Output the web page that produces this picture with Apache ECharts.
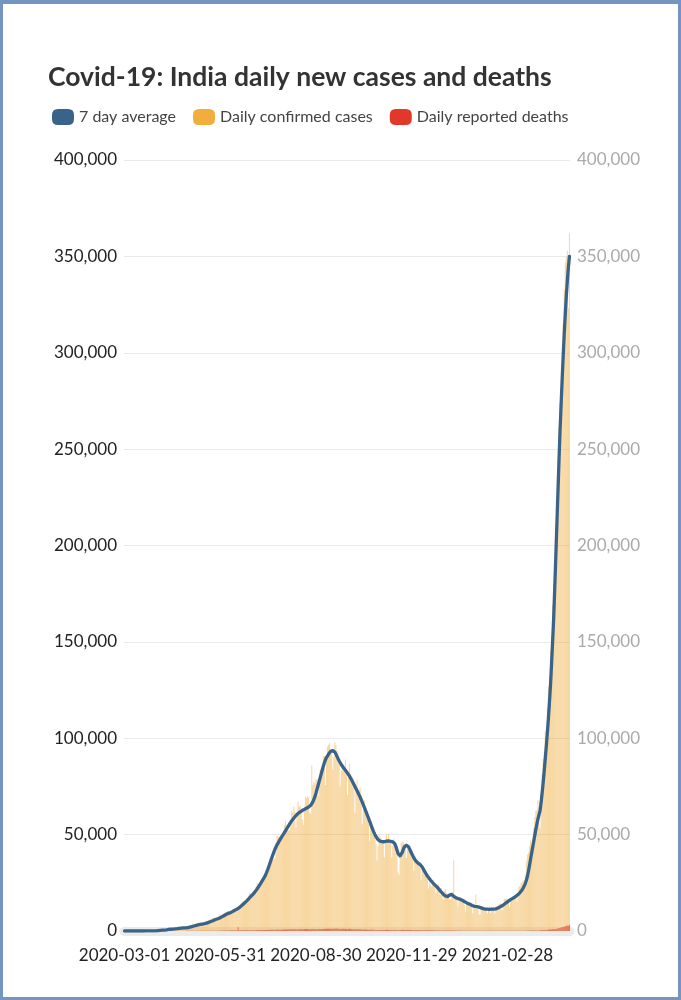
<!DOCTYPE html>
<html><head><meta charset="utf-8">
<script src="https://cdn.jsdelivr.net/npm/echarts/dist/echarts.min.js"></script>
<style>
html,body{margin:0;padding:0;background:#fff;}
#chart{position:absolute;left:0;top:0;width:681px;height:1000px;}
#frame{position:absolute;left:0;top:0;width:681px;height:1000px;box-sizing:border-box;border:3px solid #7395bf;border-top-width:4px;pointer-events:none;}
</style></head><body>
<div id="chart"></div><div id="frame"></div>
<script>
// First day of the daily series (one value per day)
const startDate = '2020-03-01';
// Y ticks in thousands (labels shown as full numbers)
const yTicksK = [0, 50, 100, 150, 200, 250, 300, 350, 400];

// Daily confirmed cases, thousands (2020-03-01 .. 2021-04-28)
const casesK = [
 0,0,0,0,0,0,0,0,0,0, 0,0,0,0,0,0,0,0,0,0.1, 0.1,0.1,0.1,0,0.1,0.1,0.2,0.1,0.1,0.2, 0.1,
 0.6,0.4,0.5,0.5,0.5,0.7,0.4,0.6,0.8,0.8, 1.0,0.9,0.7,1.2,1.0,1.0,1.0,1.4,1.3,1.6, 1.3,1.5,1.7,1.4,1.8,1.6,1.6,1.6,1.6,1.8,
 2.4,2.0,2.6,2.5,3.9,2.7,3.6,3.3,3.3,4.3, 4.2,3.6,3.5,3.7,3.9,3.9,4.9,5.2,4.6,5.6, 5.6,6.1,6.6,6.8,7.0,6.5,6.4,6.6,7.5,8.0, 8.4,
 8.4,8.2,8.9,9.3,9.9,9.9,10.4,9.9,9.8,9.9, 10.0,10.9,11.5,11.9,11.5,10.7,10.9,12.9,13.6,14.5, 15.4,14.8,14.9,15.9,16.9,17.3,18.6,19.9,19.5,18.5,
 18.7,19.1,20.9,22.8,24.9,24.2,22.3,22.8,24.9,26.5, 27.1,28.6,28.7,28.5,29.4,32.7,35.0,34.9,38.9,40.4, 37.1,37.7,45.7,49.3,49.0,48.7,49.9,47.7,48.5,52.1, 55.1,
 57.1,54.7,52.9,52.1,52.5,56.3,62.5,61.5,64.4,62.1, 53.6,60.9,67.0,64.6,65.0,63.5,57.9,55.1,64.5,69.7, 68.9,70.0,69.2,61.4,60.9,86.0,75.8,77.3,76.5,78.8, 78.5,
 69.9,78.4,83.9,83.3,86.4,90.6,90.8,75.8,89.7,95.7, 96.6,97.6,94.4,92.1,83.8,90.1,97.9,96.4,93.3,92.6, 86.9,75.1,83.3,86.5,86.1,85.4,89.0,82.2,70.6,80.5,
 86.8,81.5,79.5,75.8,74.4,61.3,72.0,78.5,70.5,73.3, 74.4,66.7,55.3,63.5,67.7,63.4,62.2,61.9,55.7,46.8, 54.0,55.8,54.4,53.4,50.1,45.1,36.5,43.9,49.9,48.6, 48.3,
 46.9,45.3,38.3,46.3,50.2,47.6,50.4,45.7,45.9,38.1, 44.3,47.9,44.9,44.7,41.1,30.5,29.2,38.6,45.6,46.0, 46.2,45.2,44.1,37.9,44.4,44.5,43.1,41.3,41.8,38.8,
 31.1,36.6,35.6,36.6,36.7,36.0,32.9,26.6,32.1,31.5, 29.4,30.0,30.3,27.1,22.1,26.4,24.0,22.9,25.2,26.6, 24.3,19.6,23.9,24.7,23.1,18.7,22.3,20.0,16.4,20.6, 21.8,
 20.0,19.1,18.2,16.5,16.4,18.1,20.3,37.0,18.1,18.6, 16.3,12.6,15.9,16.9,15.6,15.2,15.1,13.8,10.1,13.8, 15.2,14.5,14.3,14.8,13.2,9.1,12.7,11.7,18.9,13.1, 13.1,
 8.6,8.6,11.0,12.9,12.4,11.7,12.1,11.8,9.1,11.1, 12.9,9.3,12.2,11.4,11.6,9.1,11.6,12.9,13.2,13.9, 14.3,14.2,10.6,13.7,16.7,16.6,16.5,16.8,
 15.5,12.3,14.9,17.4,16.8,18.3,18.7,18.6,15.4,17.9, 22.9,23.3,24.9,25.3,26.3,24.5,28.9,35.9,39.7,40.9, 43.8,46.9,40.7,47.3,53.5,59.1,62.3,62.7,68.0,56.2, 53.5,
 72.3,81.5,89.1,93.2,103.6,96.9,115.7,126.8,131.9,145.4, 152.9,168.9,161.7,184.4,200.7,217.4,234.7,261.5,273.8,259.2, 295.0,314.8,332.7,346.8,349.7,352.9,323.1,362.0
];

// 7 day average, thousands
const avgK = [
 0,0,0,0,0,0,0,0,0,0, 0,0,0,0,0,0,0,0,0,0, 0.1,0.1,0.1,0.1,0.1,0.1,0.1,0.1,0.1,0.1, 0.1,
 0.2,0.2,0.3,0.3,0.4,0.4,0.5,0.5,0.6,0.6, 0.7,0.8,0.8,0.9,0.9,1.0,1.0,1.1,1.1,1.2, 1.3,1.4,1.4,1.5,1.5,1.6,1.6,1.6,1.7,1.7,
 1.9,2.0,2.1,2.3,2.5,2.6,2.8,2.9,3.0,3.2, 3.3,3.4,3.5,3.6,3.7,3.8,3.9,4.1,4.3,4.5, 4.7,4.9,5.1,5.3,5.5,5.8,6.0,6.2,6.4,6.6, 6.9,
 7.2,7.5,7.8,8.1,8.4,8.7,9.0,9.2,9.4,9.6, 9.9,10.2,10.5,10.8,11.1,11.4,11.7,12.1,12.5,13.0, 13.5,14.0,14.5,15.0,15.5,16.1,16.7,17.3,17.9,18.5,
 19.0,19.6,20.3,21.0,21.8,22.6,23.4,24.3,25.2,26.1, 27.0,27.9,29.0,30.3,31.7,33.2,34.8,36.4,38.0,39.5, 41.0,42.4,43.6,44.7,45.7,46.6,47.5,48.4,49.3,50.2, 51.1,
 52.0,52.9,53.8,54.7,55.6,56.4,57.2,57.9,58.6,59.3, 59.9,60.5,61.0,61.4,61.8,62.2,62.5,62.8,63.1,63.4, 63.7,64.0,64.3,64.7,65.2,66.0,67.0,68.2,69.7,71.5, 73.5,
 75.5,77.5,79.5,81.5,83.5,85.5,87.3,88.8,90.0,91.0, 91.8,92.6,93.2,93.5,93.6,93.4,92.8,91.8,90.6,89.4, 88.3,87.3,86.4,85.6,84.8,84.1,83.4,82.7,81.9,81.1,
 80.2,79.3,78.3,77.2,76.1,75.0,73.9,72.8,71.7,70.6, 69.5,68.2,66.9,65.5,64.1,62.7,61.3,59.9,58.5,57.0, 55.5,54.0,52.6,51.3,50.1,49.0,48.1,47.4,46.9,46.6, 46.5,
 46.3,46.2,46.3,46.5,46.6,46.7,46.7,46.6,46.5,46.4, 46.3,46.0,45.2,43.8,42.0,40.3,39.3,39.0,39.6,40.8, 42.3,43.6,44.3,44.5,44.4,43.7,42.6,41.4,40.2,39.1,
 38.0,37.1,36.3,35.7,35.2,34.8,34.5,34.0,33.2,32.2, 31.2,30.2,29.3,28.5,27.7,27.0,26.3,25.6,25.0,24.4, 23.9,23.4,22.9,22.3,21.6,20.9,20.3,19.7,19.1,18.6, 18.2,
 18.0,17.9,17.8,18.6,19.3,19.0,18.4,18.0,17.6,17.3, 17.0,16.8,16.6,16.5,16.3,16.0,15.7,15.3,15.0,14.7, 14.4,14.2,14.0,13.7,13.4,13.1,12.9,12.8,12.8,12.7, 12.6,
 12.4,12.2,12.0,11.8,11.6,11.5,11.4,11.3,11.3,11.2, 11.2,11.2,11.3,11.3,11.3,11.4,11.5,11.7,11.9,12.2, 12.5,12.8,13.1,13.5,13.9,14.3,14.7,15.1,
 15.5,15.9,16.3,16.6,16.9,17.2,17.6,18.0,18.4,18.8, 19.3,19.9,20.6,21.4,22.3,23.3,24.6,26.3,28.3,31.0, 34.0,37.2,40.3,43.4,46.5,49.6,52.6,55.4,58.0,60.3, 62.4,
 66.5,71.5,77.0,83.0,89.5,96.0,103.0,110.5,119.0,128.0, 139.0,150.5,162.5,178.0,194.0,210.5,227.0,243.5,259.0,272.5, 285.5,298.0,309.5,320.0,329.5,337.5,344.5,350.0
];

// Daily reported deaths, thousands
const deathsK = [
 0,0,0,0,0,0,0,0,0,0, 0,0,0,0,0,0,0,0,0,0, 0,0,0,0,0,0,0.01,0,0.01,0.01, 0.01,
 0.01,0.01,0.01,0.02,0.02,0.03,0.02,0.03,0.04,0.04, 0.04,0.03,0.03,0.04,0.04,0.03,0.03,0.04,0.04,0.04, 0.04,0.05,0.04,0.04,0.05,0.05,0.06,0.05,0.07,0.07,
 0.08,0.07,0.08,0.08,0.19,0.1,0.1,0.1,0.1,0.11, 0.11,0.12,0.13,0.13,0.1,0.12,0.12,0.16,0.13,0.14, 0.13,0.14,0.14,0.15,0.15,0.15,0.15,0.18,0.27,0.17, 0.19,
 0.23,0.2,0.22,0.26,0.28,0.3,0.28,0.25,0.27,0.35, 0.36,0.4,0.39,0.32,0.33,0.37,2.0,0.34,0.33,0.38, 0.43,0.45,0.43,0.44,0.42,0.41,0.38,0.38,0.38,0.42,
 0.51,0.43,0.38,0.44,0.61,0.46,0.47,0.48,0.48,0.48, 0.53,0.55,0.5,0.55,0.58,0.61,0.67,0.66,0.68,0.68, 0.67,0.66,0.68,0.74,0.76,0.71,0.71,0.65,0.78,0.77, 0.76,
 0.76,0.85,0.8,0.81,0.86,0.9,0.9,0.93,0.87,1.01, 0.87,0.83,0.95,0.99,1.06,0.94,0.88,0.88,1.07,1.09, 0.98,0.98,0.91,0.85,0.85,1.06,1.05,1.02,1.02,0.97, 0.82,
 1.04,1.05,1.04,1.1,1.07,1.07,1.0,1.13,1.15,1.17, 1.2,1.2,1.11,1.14,1.05,1.29,1.13,1.28,1.25,1.13, 1.13,1.05,1.09,1.13,1.13,1.09,1.12,1.04,0.78,1.18,
 1.18,1.1,1.07,0.94,0.9,0.88,0.97,0.96,0.99,0.93, 0.93,0.82,0.71,0.73,0.68,0.78,0.77,0.58,0.57,0.59, 0.72,0.71,0.65,0.64,0.58,0.5,0.48,0.52,0.52,0.52, 0.55,
 0.47,0.51,0.49,0.51,0.7,0.67,0.58,0.56,0.49,0.45, 0.45,0.67,0.55,0.55,0.51,0.44,0.45,0.47,0.58,0.59, 0.59,0.51,0.51,0.45,0.58,0.52,0.52,0.49,0.49,0.44,
 0.44,0.48,0.5,0.54,0.51,0.48,0.39,0.39,0.4,0.4, 0.42,0.44,0.39,0.34,0.36,0.36,0.35,0.34,0.35,0.33, 0.33,0.3,0.33,0.3,0.34,0.25,0.3,0.25,0.25,0.29, 0.26,
 0.26,0.23,0.21,0.21,0.2,0.26,0.22,0.23,0.22,0.21, 0.17,0.2,0.2,0.2,0.18,0.18,0.18,0.15,0.14,0.16, 0.15,0.15,0.16,0.15,0.13,0.14,0.13,0.12,0.15,0.13, 0.13,
 0.12,0.09,0.11,0.11,0.11,0.12,0.11,0.08,0.09,0.08, 0.09,0.08,0.09,0.1,0.09,0.08,0.09,0.1,0.1,0.1, 0.1,0.09,0.08,0.1,0.14,0.11,0.11,0.12,
 0.11,0.11,0.1,0.1,0.11,0.11,0.1,0.1,0.08,0.13, 0.13,0.12,0.12,0.16,0.12,0.16,0.19,0.17,0.2,0.19, 0.2,0.21,0.21,0.28,0.27,0.26,0.29,0.28,0.29,0.27, 0.35,
 0.46,0.47,0.51,0.51,0.48,0.45,0.63,0.68,0.78,0.79, 0.84,0.88,0.88,1.03,1.03,1.19,1.34,1.5,1.62,1.76, 2.02,2.1,2.26,2.62,2.77,2.81,2.77,3.29
];

const seriesNames = ['7 day average', 'Daily confirmed cases', 'Daily reported deaths'];
const seriesColors = ['#3a6389', '#f2ae3c', '#e2382a'];

// category labels: one date string per day
const dates = [];
const d0 = new Date(startDate + 'T00:00:00Z');
for (let i = 0; i < casesK.length; i++) {
  dates.push(new Date(d0.getTime() + i * 86400000).toISOString().slice(0, 10));
}

const FONT = 'Lato';
const fmt = v => (v * 1000).toLocaleString('en-US');
const chart = echarts.init(document.getElementById('chart'), null, {renderer: 'canvas'});
chart.setOption({
  animation: false,
  backgroundColor: '#ffffff',
  textStyle: {fontFamily: FONT},
  title: {
    text: 'Covid-19: India daily new cases and deaths',
    left: 43, top: 59,
    textStyle: {fontFamily: FONT, fontSize: 26.5, fontWeight: 'bold', color: '#333333'}
  },
  legend: {
    data: seriesNames.map((n, i) => ({name: n, itemStyle: {color: seriesColors[i], opacity: 1}})),
    left: 47, top: 104,
    itemWidth: 22, itemHeight: 16, itemGap: 17,
    icon: 'path://M6,0H16Q22,0 22,6V10Q22,16 16,16H6Q0,16 0,10V6Q0,0 6,0Z',
    textStyle: {fontFamily: FONT, fontSize: 16, color: '#444444'}
  },
  grid: {left: 124, right: 111, top: 160, bottom: 69, containLabel: false},
  xAxis: {
    type: 'category', data: dates, offset: 5,
    axisLine: {show: true, lineStyle: {color: '#ebebeb', width: 9}},
    axisTick: {show: false},
    axisLabel: {interval: 90, color: '#222222', fontSize: 17, margin: 11, fontFamily: FONT, hideOverlap: false}
  },
  yAxis: [
    {type: 'value', min: 0, max: 400, interval: 50,
     axisLine: {show: false}, axisTick: {show: false},
     splitLine: {lineStyle: {color: '#e9e9e9', width: 1}},
     axisLabel: {formatter: fmt, color: '#222222', fontSize: 17, margin: 7, fontFamily: FONT}},
    {type: 'value', min: 0, max: 400, interval: 50, position: 'right',
     axisLine: {show: false}, axisTick: {show: false}, splitLine: {show: false},
     axisLabel: {formatter: fmt, color: '#aaaaaa', fontSize: 17, margin: 7, fontFamily: FONT}}
  ],
  series: [
    {name: seriesNames[1], type: 'bar', data: casesK, barWidth: '45%', barMinWidth: 0,
     itemStyle: {color: seriesColors[1], opacity: 0.5}, z: 2},
    {name: seriesNames[2], type: 'bar', data: deathsK, barWidth: '45%', barMinWidth: 0, barGap: '-100%',
     itemStyle: {color: seriesColors[2], opacity: 0.6}, z: 3},
    {name: seriesNames[0], type: 'line', data: avgK, showSymbol: false, symbol: 'none',
     lineStyle: {color: seriesColors[0], width: 3.3, cap: 'round', join: 'round'},
     itemStyle: {color: seriesColors[0]}, z: 5}
  ]
});
</script>
</body></html>
